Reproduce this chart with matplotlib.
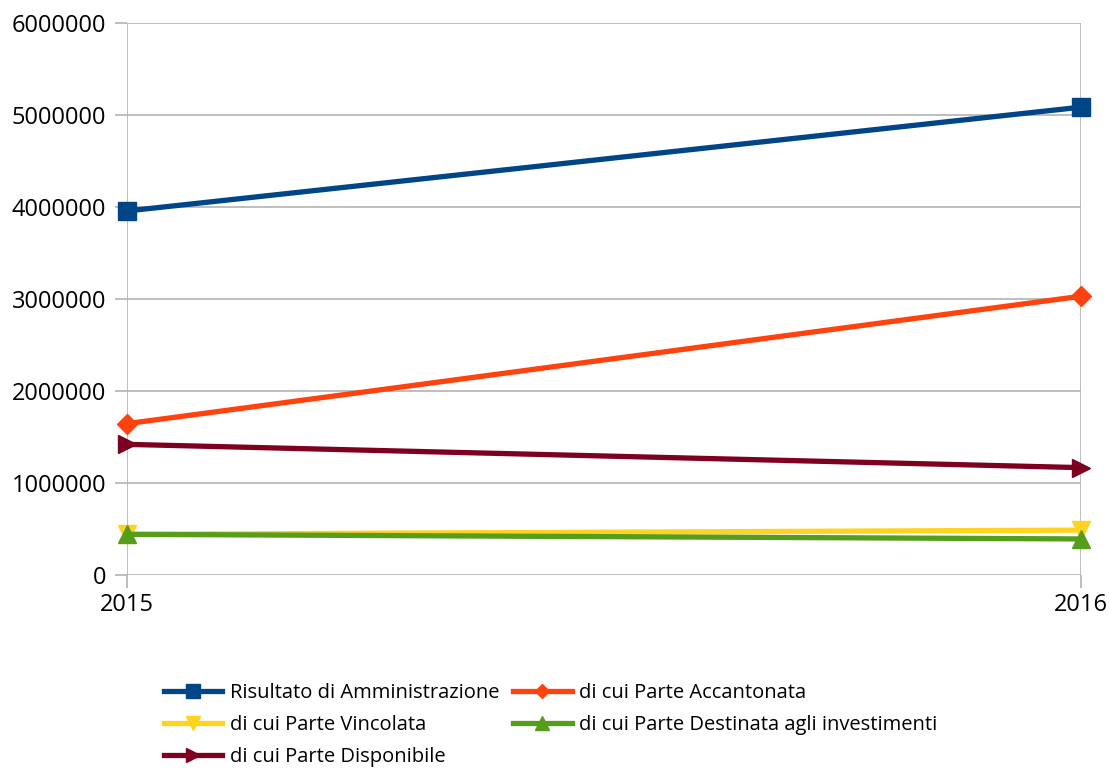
import matplotlib.pyplot as plt

years = ["2015", "2016"]
risultato = [3957000, 5085000]
accantonata = [1645000, 3030000]
vincolata = [442000, 488000]
destinata = [442000, 392000]
disponibile = [1420000, 1167000]

series = [
    ("Risultato di Amministrazione", risultato, "#004586", "s", 13),
    ("di cui Parte Accantonata", accantonata, "#ff420e", "D", 10),
    ("di cui Parte Vincolata", vincolata, "#ffd320", "v", 13),
    ("di cui Parte Destinata agli investimenti", destinata, "#579d1c", "^", 13),
    ("di cui Parte Disponibile", disponibile, "#7e0021", ">", 13),
]

plt.rcParams["font.family"] = ["Open Sans", "DejaVu Sans"]

fig = plt.figure(figsize=(11.09, 7.69), dpi=100)
ax = fig.add_axes([127 / 1109, 1 - 575 / 769, (1081 - 127) / 1109, (575 - 23) / 769])

x = list(range(len(years)))
lines = []
for name, vals, col, mk, ms in series:
    ln, = ax.plot(x, vals, color=col, lw=3.8, marker=mk, markersize=ms,
                  label=name, clip_on=False, zorder=3)
    lines.append(ln)

ax.set_xlim(0, 1)
ax.set_ylim(0, 6000000)
ax.set_xticks(x)
ax.set_xticklabels(years)
ax.set_yticks(range(0, 6000001, 1000000))
ax.set_yticklabels([str(v) for v in range(0, 6000001, 1000000)])
ax.grid(True, color="#b3b3b3", lw=1.2, zorder=0)
for s in ax.spines.values():
    s.set_visible(False)
ax.tick_params(axis="both", colors="#b3b3b3", length=9, width=1.2,
               labelcolor="black", labelsize=17)
ax.tick_params(axis="y", pad=6)
ax.tick_params(axis="x", pad=4)

# legend fills row by row: reorder for matplotlib's column-wise filling
order = [0, 2, 4, 1, 3]
fig.legend([lines[i] for i in order], [series[i][0] for i in order],
           loc="upper left", bbox_to_anchor=(156 / 1109, 1 - 675 / 769),
           ncol=2, frameon=False, fontsize=14.5, handlelength=2.9,
           handletextpad=0.35, columnspacing=0.7, labelspacing=0.6,
           markerscale=0.75, borderaxespad=0)

fig.savefig("out.png", dpi=100)
